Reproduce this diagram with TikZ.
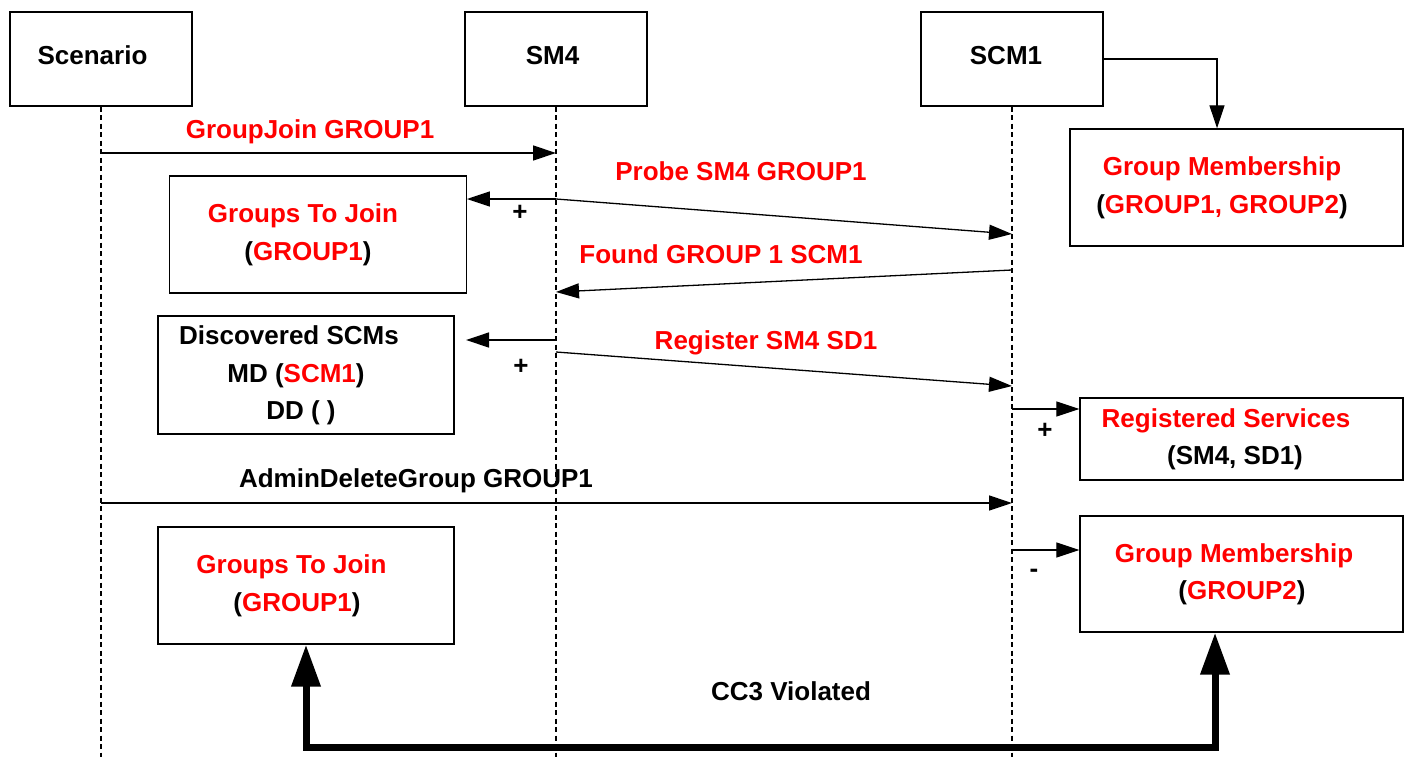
\documentclass[tikz,border=0pt]{standalone}
\usepackage{fontspec}
\setmainfont{Liberation Sans}
\usetikzlibrary{arrows.meta,calc}
\definecolor{msgred}{RGB}{255,0,0}
\begin{document}
\begin{tikzpicture}[x=1pt,y=-1pt,
  every node/.style={font=\fontsize{26}{30}\selectfont\bfseries},
  box/.style={draw,line width=1.4pt,minimum width=#1,inner sep=0pt},
  txt/.style={inner sep=0pt,anchor=base},
  rtxt/.style={inner sep=0pt,anchor=base,text=msgred},
  life/.style={line width=1.8pt,dash pattern=on 5pt off 3.5pt},
  msg/.style={line width=1.3pt,-{Triangle[length=23pt,width=15pt]}},
  big/.style={line width=7pt,line join=miter,{Triangle[length=42pt,width=28pt]}-{Triangle[length=42pt,width=28pt]}}
]
\useasboundingbox (0,0) rectangle (1404,757);

% lifeline headers
\node[box=182pt,minimum height=94pt] (scen) at (101,59) {};
\node[box=182pt,minimum height=94pt] (sm) at (556,59) {};
\node[box=182pt,minimum height=94pt] (scm) at (1012,59) {};
\node[txt] (tscen) at (92.5,65) {Scenario};
\node[txt] (tsm) at (552.5,65) {SM4};
\node[txt] (tscm) at (1006,65) {SCM1};

% lifelines
\coordinate (scenb) at (101,757);
\coordinate (smb) at (556,757);
\coordinate (scmb) at (1012,757);
\draw[life] (scen.south) -- (scenb);
\draw[life] (sm.south) -- (smb);
\draw[life] (scm.south) -- (scmb);

% state boxes
\node[box=333pt,minimum height=117pt] (gm1) at (1236.5,187.5) {};
\node[box=296.5pt,minimum height=117pt] (gtj1) at (318,234.5) {};
\node[box=296pt,minimum height=118pt] (disc) at (306,375) {};
\node[box=323pt,minimum height=82pt] (rs) at (1241.5,439) {};
\node[box=296pt,minimum height=117pt] (gtj2) at (306,585.5) {};
\node[box=323pt,minimum height=116pt] (gm2) at (1241.5,574) {};

% box texts
\node[rtxt] (gm1a) at (1222,175) {Group Membership};
\node[txt] (gm1b) at (1222,213) {(\textcolor{msgred}{GROUP1, GROUP2})};
\node[rtxt] (gtj1a) at (303,222) {Groups To Join};
\node[txt] (gtj1b) at (308,260) {(\textcolor{msgred}{GROUP1})};
\node[txt] (disca) at (289,344) {Discovered SCMs};
\node[txt] (discb) at (296,382) {MD (\textcolor{msgred}{SCM1})};
\node[txt] (discc) at (301,419) {DD ( )};
\node[rtxt] (rsa) at (1226,427) {Registered Services};
\node[txt] (rsb) at (1235,464) {(SM4, SD1)};
\node[rtxt] (gtj2a) at (291.5,573) {Groups To Join};
\node[txt] (gtj2b) at (297,611) {(\textcolor{msgred}{GROUP1})};
\node[rtxt] (gm2a) at (1234,562) {Group Membership};
\node[txt] (gm2b) at (1242,599) {(\textcolor{msgred}{GROUP2})};

% message labels
\node[rtxt] (l1) at (310,138) {GroupJoin GROUP1};
\node[rtxt] (l2) at (741,180) {Probe SM4 GROUP1};
\node[rtxt] (l3) at (721,263) {Found GROUP 1 SCM1};
\node[rtxt] (l4) at (766,349) {Register SM4 SD1};
\node[txt] (l5) at (416,487) {AdminDeleteGroup GROUP1};
\node[txt] (l6) at (791,700) {CC3 Violated};

% signs
\node[inner sep=0pt] (p1) at (520,213) {+};
\node[inner sep=0pt] (p2) at (521,367) {+};
\node[inner sep=0pt] (p3) at (1045,431) {+};
\node[inner sep=0pt] (p4) at (1034,573) {-};

% lifeline points
\coordinate (a1) at (101,153);
\coordinate (a2) at (556,153);
\coordinate (b1) at (556,199);
\coordinate (b2) at (1012,234);
\coordinate (c1) at (1012,270);
\coordinate (c2) at (556,292);
\coordinate (d1) at (556,340);
\coordinate (d2) at (466,340);
\coordinate (e1) at (556,352);
\coordinate (e2) at (1012,386);
\coordinate (f1) at (1012,409);
\coordinate (g1) at (101,503);
\coordinate (g2) at (1012,503);
\coordinate (h1) at (1012,550);

% messages
\draw[msg] (scm.east) -| ($(gm1.north)+(-19.5,0)$);
\draw[msg] (a1) -- (a2);
\draw[msg] (b1) -- (gtj1.east |- b1);
\draw[msg] (b1) -- (b2);
\draw[msg] (c1) -- (c2);
\draw[msg] (d1) -- (d2);
\draw[msg] (e1) -- (e2);
\draw[msg] (f1) -- (rs.west |- f1);
\draw[msg] (g1) -- (g2);
\draw[msg] (h1) -- (gm2.west |- h1);

% violation arrow
\coordinate (k1) at (306,747);
\coordinate (k2) at (1215,747);
\draw[big] (gtj2.south) -- (k1) -- (k2) -- (k2 |- gm2.south);
\end{tikzpicture}
\end{document}
